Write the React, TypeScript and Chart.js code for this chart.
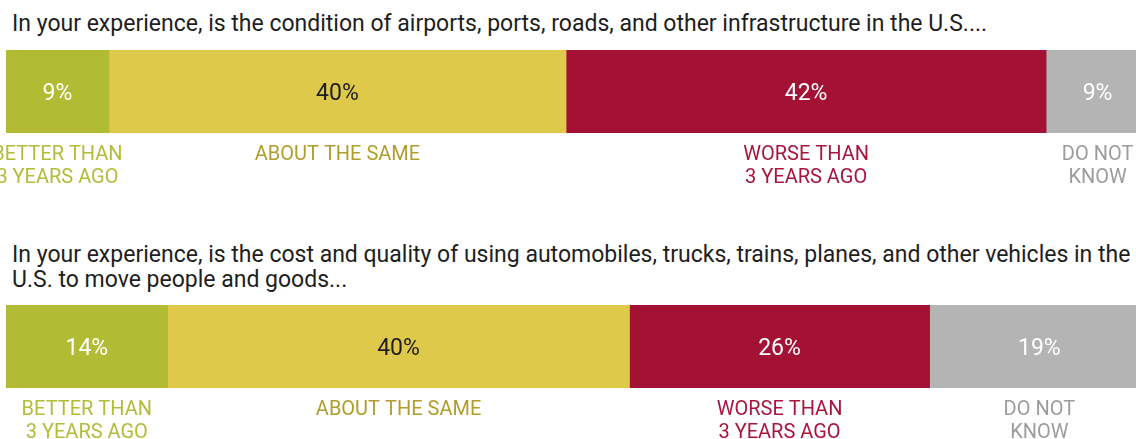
import React, { useEffect, useRef } from "react";
import { Chart, registerables } from "chart.js";

Chart.register(...registerables);

const categoryLines: string[][] = [
  ["BETTER THAN", "3 YEARS AGO"],
  ["ABOUT THE SAME"],
  ["WORSE THAN", "3 YEARS AGO"],
  ["DO NOT", "KNOW"],
];
const infrastructureValues = [9, 40, 42, 9];
const vehicleValues = [14, 40, 26, 19];
const questionInfrastructure = [
  "In your experience, is the condition of airports, ports, roads, and other infrastructure in the U.S....",
];
const questionVehicles = [
  "In your experience, is the cost and quality of using automobiles, trucks, trains, planes, and other vehicles in the",
  "U.S. to move people and goods...",
];

const barColors = ["#B1BB33", "#DFC94A", "#A31134", "#B4B4B4"];
const valueColors = ["#ffffff", "#1e1e1e", "#ffffff", "#ffffff"];
const labelColors = ["#B3BC3A", "#B19D2C", "#A8173B", "#9C9C9C"];

const FONT = "Roboto, 'Liberation Sans', sans-serif";

function StackedBar({ values, top }: { values: number[]; top: number }) {
  const ref = useRef<HTMLCanvasElement>(null);
  useEffect(() => {
    if (!ref.current) return;
    const total = values.reduce((a, b) => a + b, 0);
    const labelPlugin = {
      id: "segLabels",
      afterDatasetsDraw(chart: any) {
        const ctx = chart.ctx;
        const area = chart.chartArea;
        ctx.save();
        chart.data.datasets.forEach((ds: any, i: number) => {
          const el = chart.getDatasetMeta(i).data[0];
          if (!el) return;
          const p = el.getProps(["x", "base", "y"], true);
          const cx = (p.x + p.base) / 2;
          ctx.textAlign = "center";
          ctx.textBaseline = "alphabetic";
          ctx.font = `400 23px ${FONT}`;
          ctx.fillStyle = valueColors[i];
          ctx.fillText(`${ds.data[0]}%`, cx, p.y + 8);
          ctx.font = `400 20px ${FONT}`;
          ctx.fillStyle = labelColors[i];
          categoryLines[i].forEach((line, j) => {
            ctx.fillText(line, cx, area.bottom + 27 + j * 23);
          });
        });
        ctx.restore();
      },
    };
    const chart = new Chart(ref.current, {
      type: "bar",
      data: {
        labels: [""],
        datasets: values.map((v, i) => ({
          label: categoryLines[i].join(" "),
          data: [v],
          backgroundColor: barColors[i],
          borderWidth: 0,
          categoryPercentage: 1,
          barPercentage: 1,
        })),
      },
      options: {
        indexAxis: "y",
        responsive: false,
        animation: false,
        events: [],
        layout: { padding: { left: 6, right: 3, top: 0, bottom: 57 } },
        scales: {
          x: { stacked: true, display: false, min: 0, max: total },
          y: { stacked: true, display: false },
        },
        plugins: { legend: { display: false }, tooltip: { enabled: false } },
      },
      plugins: [labelPlugin],
    } as any);
    return () => chart.destroy();
  }, [values]);
  return (
    <canvas
      ref={ref}
      width={1152}
      height={140}
      style={{ position: "absolute", left: 0, top, width: 1152, height: 140 }}
    />
  );
}

function Title({ lines, top }: { lines: string[]; top: number }) {
  return (
    <div
      style={{
        position: "absolute",
        left: 12,
        top,
        fontFamily: FONT,
        fontSize: 23,
        lineHeight: "25px",
        color: "#1e1e1e",
        whiteSpace: "nowrap",
      }}
    >
      {lines.map((l, i) => (
        <div key={i}>{l}</div>
      ))}
    </div>
  );
}

export default function App() {
  return (
    <div
      style={{
        position: "fixed",
        left: 0,
        top: 0,
        width: 1136,
        height: 439,
        overflow: "hidden",
        background: "#ffffff",
      }}
    >
      <Title lines={questionInfrastructure} top={11} />
      <StackedBar values={infrastructureValues} top={50} />
      <Title lines={questionVehicles} top={242} />
      <StackedBar values={vehicleValues} top={305} />
    </div>
  );
}
